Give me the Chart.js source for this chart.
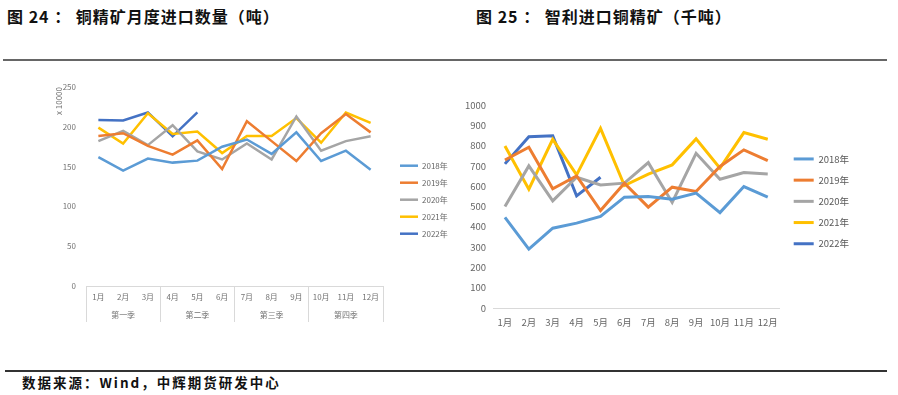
<!DOCTYPE html>
<html lang="zh">
<head>
<meta charset="UTF-8">
<title>铜精矿进口</title>
<script src="https://cdn.jsdelivr.net/npm/chart.js@4.4.4/dist/chart.umd.min.js"></script>
<style>
  body { margin: 0; width: 898px; height: 395px; position: relative; background: #fff; overflow: hidden; }
  .title { position: absolute; top: 5px; font: bold 16px "Noto Sans CJK SC", sans-serif; letter-spacing: 1px; line-height: 22px; color: #111; white-space: nowrap; }
  .footer { position: absolute; left: 22px; top: 374px; font: bold 13.5px "Noto Sans CJK SC", sans-serif; letter-spacing: 2px; line-height: 16px; color: #111; white-space: nowrap; }
</style>
</head>
<body>
<div class="title" style="left:7px;">图 24 ： 铜精矿月度进口数量（吨）</div>
<div class="title" style="left:476px;">图 25 ： 智利进口铜精矿（千吨）</div>
<div style="position:absolute; left:3px; top:59px; width:884px; height:2px; background:#666;"></div>

<div style="position:absolute; left:0; top:70px; width:451px; height:270px;"><canvas id="chart24"></canvas></div>
<div style="position:absolute; left:460px; top:90px; width:392px; height:250px;"><canvas id="chart25"></canvas></div>

<div style="position:absolute; left:5px; top:370px; width:882px; height:1.5px; background:#333;"></div>
<div class="footer">数据来源：Wind，中辉期货研发中心</div>

<script>
// Données
const months = ['1月', '2月', '3月', '4月', '5月', '6月', '7月', '8月', '9月', '10月', '11月', '12月'];
const quarters = ['第一季', '第二季', '第三季', '第四季'];
const years = ['2018年', '2019年', '2020年', '2021年', '2022年'];
const colors = ['#5B9BD5', '#ED7D31', '#A5A5A5', '#FFC000', '#4472C4'];

// 图24 : 铜精矿月度进口数量 (x 10000 吨)
const cn2018 = [162, 145, 160, 155, 157.5, 175, 184, 166, 193, 157, 170, 146];
const cn2019 = [188.5, 192, 176, 165, 183, 147, 207, 182, 157, 192, 216, 193];
const cn2020 = [182, 195, 177, 202, 169, 159, 179, 159, 213, 170, 182, 188];
const cn2021 = [199, 179, 217, 191, 194, 167, 188.5, 188.5, 211, 180, 218, 205];
const cn2022 = [208.5, 208, 218, 188, 218];

// 图25 : 智利进口铜精矿 (千吨)
const cl2018 = [446, 290, 393, 418, 451, 546, 549, 536, 566, 470, 598, 546];
const cl2019 = [729, 792, 587, 651, 480, 615, 497, 595, 574, 697, 779, 726];
const cl2020 = [500, 700, 528, 644, 606, 615, 716, 520, 762, 634, 667, 660];
const cl2021 = [798, 585, 831, 656, 885, 603, 659, 705, 833, 689, 864, 831];
const cl2022 = [710, 844, 848, 552, 644];

Chart.defaults.font.family = '"Noto Sans CJK SC", sans-serif';
Chart.defaults.color = '#737373';

function makeSets(series, width) {
    return series.map((data, i) => ({
        label: years[i],
        data: data,
        borderColor: colors[i],
        backgroundColor: colors[i],
        borderWidth: width,
        pointRadius: 0,
        tension: 0
    }));
}

// mois + trimestre sur deux lignes
const labels24 = months.map((m, i) => [m, i % 3 === 1 ? quarters[(i - 1) / 3] : '']);

new Chart(document.getElementById('chart24'), {
    type: 'line',
    data: { labels: labels24, datasets: makeSets([cn2018, cn2019, cn2020, cn2021, cn2022], 2.5) },
    options: {
        responsive: true,
        maintainAspectRatio: false,
        animation: false,
        layout: { padding: { top: 17, bottom: 4, left: 0, right: 0 } },
        plugins: {
            tooltip: { enabled: false },
            legend: {
                position: 'right',
                align: 'start',
                maxWidth: 60,
                title: { display: true, text: '', font: { size: 1 }, padding: { top: 64.5, bottom: 0 } },
                labels: { usePointStyle: true, pointStyle: 'line', pointStyleWidth: 18, padding: 9, font: { size: 8 }, color: '#666' }
            }
        },
        scales: {
            x: {
                offset: true,
                border: { display: true, color: '#d9d9d9' },
                grid: {
                    display: true, drawOnChartArea: false, drawTicks: true, offset: true, tickLength: 36,
                    color: c => ((c.index ?? 0) % 3 === 0 ? '#d9d9d9' : 'rgba(0,0,0,0)')
                },
                ticks: { autoSkip: false, maxRotation: 0, padding: -33.8, font: { size: 8, lineHeight: 2.2 } },
                afterFit: s => { s.height = 50; }
            },
            y: {
                min: 0, max: 250,
                ticks: { stepSize: 50, padding: 10, font: { size: 8 } },
                grid: { display: false, drawTicks: false },
                border: { display: false },
                title: { display: true, text: 'x 10000', align: 'end', font: { size: 8 }, padding: { top: 54, bottom: 0 } },
                afterFit: s => { s.width = 86; }
            },
            y2: {
                position: 'right',
                ticks: { display: false },
                grid: { display: false, drawTicks: false },
                border: { display: false },
                afterFit: s => { s.width = 8; }
            }
        }
    }
});

new Chart(document.getElementById('chart25'), {
    type: 'line',
    data: { labels: months, datasets: makeSets([cl2018, cl2019, cl2020, cl2021, cl2022], 3) },
    options: {
        responsive: true,
        maintainAspectRatio: false,
        animation: false,
        layout: { padding: { top: 15, bottom: 2, left: 0, right: 0 } },
        plugins: {
            tooltip: { enabled: false },
            legend: {
                position: 'right',
                align: 'start',
                maxWidth: 70,
                title: { display: true, text: '', font: { size: 1 }, padding: { top: 36.3, bottom: 0 } },
                labels: { usePointStyle: true, pointStyle: 'line', pointStyleWidth: 20, padding: 11.7, font: { size: 9.5 }, color: '#595959' }
            }
        },
        scales: {
            x: {
                offset: true,
                border: { display: true, color: '#d9d9d9' },
                grid: { display: false, drawTicks: false },
                ticks: { autoSkip: false, maxRotation: 0, padding: 9, font: { size: 9.5 }, color: '#666' },
                afterFit: s => { s.height = 30; }
            },
            y: {
                min: 0, max: 1000,
                ticks: { stepSize: 100, padding: 7, font: { size: 9.5 }, color: '#666', callback: v => String(v) },
                grid: { display: false, drawTicks: false },
                border: { display: false },
                afterFit: s => { s.width = 33; }
            },
            y2: {
                position: 'right',
                ticks: { display: false },
                grid: { display: false, drawTicks: false },
                border: { display: false },
                afterFit: s => { s.width = 2.3; }
            }
        }
    }
});
</script>
</body>
</html>
